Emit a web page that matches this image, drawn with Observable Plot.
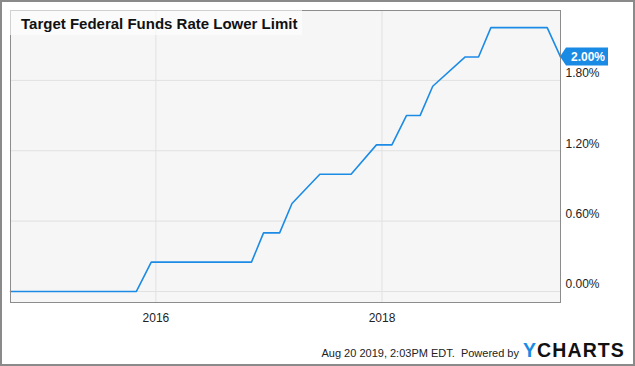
<!DOCTYPE html>
<html><head><meta charset="utf-8">
<script src="https://cdn.jsdelivr.net/npm/d3@7"></script>
<script src="https://cdn.jsdelivr.net/npm/@observablehq/plot@0.6"></script>
<style>
body{margin:0;background:#fff;}
#wrap{position:relative;width:635px;height:366px;overflow:hidden;}
#wrap svg{position:absolute;left:0;top:0;}
#border{position:absolute;left:0;top:0;width:635px;height:366px;box-sizing:border-box;border:2px solid #8a8a8a;pointer-events:none;}
</style></head><body><div id="wrap"><div id="border"></div></div>
<script>
const dates = ["2014-09-18","2015-10-30","2015-12-17","2016-11-05","2016-12-14","2017-02-04","2017-03-16","2017-06-14","2017-09-23","2017-12-14","2018-02-02","2018-03-21","2018-05-04","2018-06-14","2018-09-27","2018-11-09","2018-12-19","2019-06-19","2019-08-01"];
const rates = [0,0,0.25,0.25,0.5,0.5,0.75,1.0,1.0,1.25,1.25,1.5,1.5,1.75,2.0,2.0,2.25,2.25,2.0];
const xTicks = ["2016-01-01","2018-01-01"];
const yTicks = [0,0.6,1.2,1.8];
const title = "Target Federal Funds Rate Lower Limit";
const footer = "Aug 20 2019, 2:03PM EDT.  Powered by";

const data = dates.map((d,i)=>({date:new Date(d), rate:rates[i]}));
const xTickDates = xTicks.map(d=>new Date(d));
const last = data[data.length-1];

const plot = Plot.plot({
  width:635, height:366,
  marginLeft:10, marginTop:10, marginRight:75, marginBottom:64,
  style:{fontFamily:"'Liberation Sans', Arial, sans-serif", fontSize:"12px", background:"transparent", color:"#222"},
  x:{type:"time", domain:[data[0].date, last.date]},
  y:{domain:[-0.094, 2.396]},
  marks:[
    Plot.frame({fill:"#f6f6f6", stroke:"none"}),
    Plot.gridX(xTickDates,{stroke:"#e1e1e1", strokeOpacity:1}),
    Plot.gridY(yTicks,{stroke:"#e1e1e1", strokeOpacity:1}),
    Plot.line(data,{x:"date", y:"rate", stroke:"#1c8be6", strokeWidth:1.6}),
    Plot.frame({stroke:"#8c8c8c", fill:"none"}),
    Plot.axisX(xTickDates,{tickSize:0, tickPadding:11, tickFormat:d3.utcFormat("%Y"), label:null}),
    Plot.axisY(yTicks,{anchor:"right", tickSize:0, tickPadding:5, dy:-7, tickFormat:d=>d.toFixed(2)+"%", label:null})
  ]
});
document.getElementById("wrap").insertBefore(plot, document.getElementById("border"));

const svg = d3.select(plot);
const xs = plot.scale("x"), ys = plot.scale("y");
const ff = "'Liberation Sans', Arial, sans-serif";

// title box
svg.append("rect").attr("x",10).attr("y",10).attr("width",292).attr("height",25)
  .attr("fill","#ffffff").attr("fill-opacity",0.6);
svg.append("text").attr("x",21).attr("y",29).attr("text-anchor","start").attr("font-family",ff)
  .attr("font-size",15).attr("font-weight","bold").attr("fill","#111").text(title);

// last value badge
const lx = xs.apply(last.date), ly = ys.apply(last.rate);
svg.append("path")
  .attr("d",`M${lx},${ly} L${lx+6},${ly-9} L${lx+48},${ly-9} L${lx+48},${ly+9} L${lx+6},${ly+9} Z`)
  .attr("fill","#1a8be4");
svg.append("text").attr("x",lx+28).attr("y",ly+4.5).attr("text-anchor","middle")
  .attr("font-family",ff).attr("font-size",12).attr("font-weight","bold").attr("fill","#fff")
  .text(last.rate.toFixed(2)+"%");

// footer
svg.append("text").attr("x",519).attr("y",356.5).attr("text-anchor","end")
  .attr("font-family",ff).attr("font-size",11).attr("fill","#222")
  .attr("xml:space","preserve").style("white-space","pre").text(footer);
const logo = svg.append("text").attr("x",523).attr("y",356.7).attr("text-anchor","start")
  .attr("font-family",ff).attr("font-size",19.5).attr("font-weight","bold").attr("letter-spacing",1.1);
logo.append("tspan").attr("fill","#1a8be4").text("Y");
logo.append("tspan").attr("fill","#111").text("CHARTS");
</script>
</body></html>
